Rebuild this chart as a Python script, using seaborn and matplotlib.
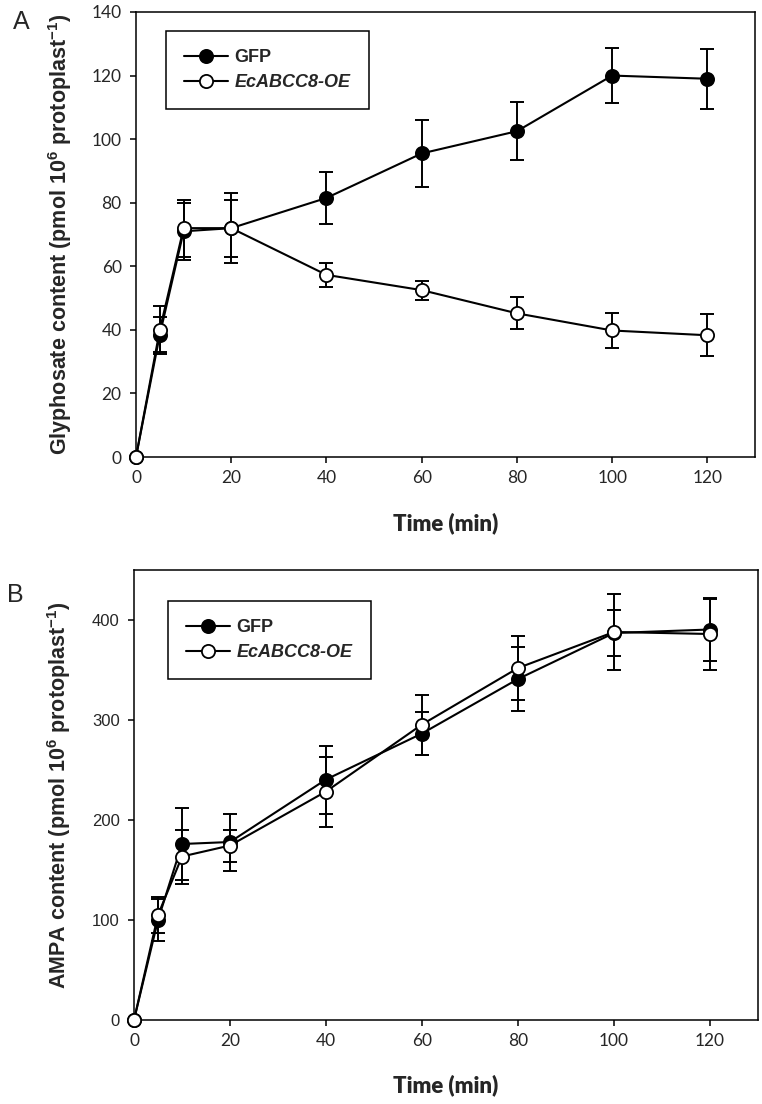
import numpy as np
import pandas as pd
import matplotlib
matplotlib.use("Agg")
import matplotlib.pyplot as plt
from matplotlib.lines import Line2D
import seaborn as sns

# time points (min)
time_min = [0, 5, 10, 20, 40, 60, 80, 100, 120]

# panel A: glyphosate content
gly_gfp = [0, 38.5, 71, 72, 81.5, 95.5, 102.5, 120, 119]
gly_gfp_sd = [0, 5.5, 9, 11, 8.3, 10.5, 9.2, 8.7, 9.5]
gly_oe = [0, 40, 72, 72, 57.3, 52.5, 45.2, 39.8, 38.3]
gly_oe_sd = [0, 7.5, 9, 9, 3.8, 3, 5, 5.4, 6.6]

# panel B: AMPA content
ampa_gfp = [0, 100, 176, 178, 240.5, 286.5, 341, 387, 390.5]
ampa_gfp_sd = [0, 21, 36, 28.5, 34, 21.5, 31.7, 23, 31]
ampa_oe = [0, 105, 163.5, 174.5, 228.5, 295.5, 352, 388, 386]
ampa_oe_sd = [0, 18, 27, 16, 35, 30, 32, 38, 36]

series_labels = ["GFP", "EcABCC8-OE"]
x_ticks = [0, 20, 40, 60, 80, 100, 120]

sns.set_style("ticks")
plt.rcParams["font.family"] = ["Liberation Sans", "DejaVu Sans"]
plt.rcParams["mathtext.fontset"] = "custom"
plt.rcParams["mathtext.rm"] = "Liberation Sans:bold"
plt.rcParams["mathtext.bf"] = "Liberation Sans:bold"
plt.rcParams["axes.edgecolor"] = "black"
plt.rcParams["axes.linewidth"] = 1.1

W, H = 762, 1104
fig = plt.figure(figsize=(W / 100, H / 100), dpi=100)


def px_axes(left, top, right, bottom):
    return fig.add_axes([left / W, 1 - bottom / H, (right - left) / W, (bottom - top) / H])


def draw_series(ax, mean, sd, face):
    ax.errorbar(time_min[1:], mean[1:], yerr=sd[1:], fmt="none", ecolor="black",
                elinewidth=1.4, capsize=5, capthick=1.4, zorder=2)
    sns.lineplot(x=time_min, y=mean, ax=ax, color="black", linewidth=1.5,
                 marker="o", markersize=9.5, markerfacecolor=face,
                 markeredgecolor="black", markeredgewidth=1.3,
                 clip_on=False, zorder=3, legend=False)


def style_axes(ax, ylim, yticks, tick_font, tick_size, ylabel, ylab_x, xlab_y):
    ax.set_xlim(0, 130)
    ax.set_ylim(*ylim)
    ax.set_xticks(x_ticks)
    ax.set_yticks(yticks)
    ax.tick_params(direction="out", length=4.3, width=1.1, color="black")
    ax.tick_params(axis="x", pad=5)
    ax.tick_params(axis="y", pad=6)
    for lab in ax.get_xticklabels() + ax.get_yticklabels():
        lab.set_family(tick_font)
        lab.set_fontsize(tick_size)
    ax.set_xlabel("Time (min)", family=["Lato", "DejaVu Sans"], fontweight="heavy", fontsize=16)
    ax.xaxis.set_label_coords(0.5, xlab_y)
    ax.set_ylabel(ylabel, fontweight="bold", fontsize=15.5)
    ax.yaxis.set_label_coords(ylab_x, 0.5)
    for side in ["top", "right", "bottom", "left"]:
        ax.spines[side].set_visible(True)


def add_legend(ax, anchor):
    handles = [
        Line2D([], [], color="black", linewidth=1.5, marker="o", markersize=9.5,
               markerfacecolor="black", markeredgecolor="black", markeredgewidth=1.3),
        Line2D([], [], color="black", linewidth=1.5, marker="o", markersize=9.5,
               markerfacecolor="white", markeredgecolor="black", markeredgewidth=1.3),
    ]
    leg = ax.legend(handles, series_labels, loc="upper left", bbox_to_anchor=anchor,
                    borderaxespad=0, frameon=True, fancybox=False, framealpha=1,
                    edgecolor="black", handlelength=2.45, handletextpad=0.35,
                    borderpad=1.0, labelspacing=0.45,
                    prop={"weight": "bold", "size": 13})
    leg.get_frame().set_linewidth(1.1)
    leg.get_texts()[1].set_style("italic")


# Panel A
ax_a = px_axes(136, 12, 755, 457)
draw_series(ax_a, gly_gfp, gly_gfp_sd, "black")
draw_series(ax_a, gly_oe, gly_oe_sd, "white")
style_axes(ax_a, (0, 140), range(0, 141, 20), ["Lato", "DejaVu Sans"], 12.5,
           r"Glyphosate content (pmol 10$^{6}$ protoplast$^{-1}$)", -0.1, -0.125)
add_legend(ax_a, (0.0485, 0.957))

# Panel B
ax_b = px_axes(134, 570, 758, 1020)
draw_series(ax_b, ampa_gfp, ampa_gfp_sd, "black")
draw_series(ax_b, ampa_oe, ampa_oe_sd, "white")
style_axes(ax_b, (0, 450), range(0, 401, 100), ["Liberation Sans Narrow", "Liberation Sans"], 12,
           r"AMPA content (pmol 10$^{6}$ protoplast$^{-1}$)", -0.098, -0.12)
for lab in ax_b.get_xticklabels():
    lab.set_family(["Lato", "DejaVu Sans"])
    lab.set_fontsize(12.5)
add_legend(ax_b, (0.0545, 0.931))

fig.text(13 / W, 1 - 10 / H, "A", fontsize=18, va="top", ha="left")
fig.text(7 / W, 1 - 583 / H, "B", fontsize=18, va="top", ha="left")

fig.savefig("out.png", dpi=100)
